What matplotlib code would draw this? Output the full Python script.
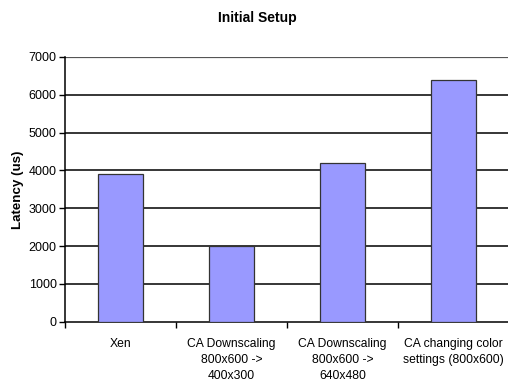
import matplotlib
matplotlib.use("Agg")
import matplotlib.pyplot as plt

categories = ["Xen", "CA Downscaling\n800x600 ->\n400x300",
              "CA Downscaling\n800x600 ->\n640x480",
              "CA changing color\nsettings (800x600)"]
latency_us = [3910, 2010, 4200, 6380]
yticks = [0, 1000, 2000, 3000, 4000, 5000, 6000, 7000]

plt.rcParams["font.family"] = ["Liberation Sans", "DejaVu Sans"]

fig = plt.figure(figsize=(5.08, 3.83), dpi=100)
ax = fig.add_axes([65 / 508, 1 - 321.7 / 383, 444 / 508, (321.7 - 57) / 383])

x = range(len(categories))
ax.bar(x, latency_us, width=0.405, color="#9999FF", edgecolor="#333333",
       linewidth=0.9, zorder=3)

ax.set_xlim(-0.5, len(categories) - 0.5)
ax.set_ylim(0, 7000)
ax.set_yticks(yticks)
ax.set_yticklabels([str(v) for v in yticks], fontsize=9)

# category labels centred under bars, tick marks on category boundaries
ax.set_xticks(list(x))
ax.set_xticklabels(categories, fontsize=8.7, linespacing=1.4)
ax.tick_params(axis="x", which="major", length=0, pad=12)
ax.set_xticks([i - 0.5 for i in range(len(categories) + 1)], minor=True)
ax.tick_params(axis="x", which="minor", length=4, width=1, direction="out")
ax.tick_params(axis="y", length=4, width=1, direction="out", pad=2)

for v in yticks[1:-1]:
    ax.axhline(v, color="black", linewidth=1.1, zorder=1)
ax.axhline(7000, color="#555555", linewidth=1.6, zorder=1)

for side in ["top", "right"]:
    ax.spines[side].set_visible(False)
ax.spines["left"].set_linewidth(1.1)
ax.spines["bottom"].set_linewidth(1.1)

ax.set_ylabel("Latency (us)", fontsize=9.6, fontweight="bold", labelpad=3)
fig.text(257 / 508, 1 - 18 / 383, "Initial Setup",
         ha="center", va="center", fontsize=10, fontweight="bold")

fig.savefig("out.png", dpi=100)
